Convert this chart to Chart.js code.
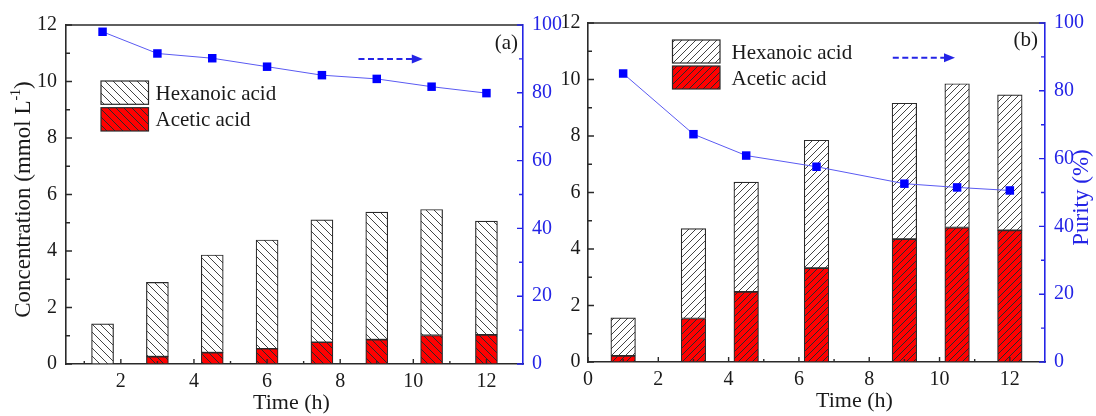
<!DOCTYPE html>
<html>
<head>
<meta charset="utf-8">
<script src="https://cdn.jsdelivr.net/npm/chart.js@4.4.1/dist/chart.umd.min.js"></script>
<style>
  html, body { margin: 0; padding: 0; background: #fff; }
  body { width: 1096px; height: 416px; position: relative; overflow: hidden; }
  #chartA { position: absolute; left: 0; top: 0; }
  #chartB { position: absolute; left: 540px; top: 0; }
</style>
</head>
<body>
<canvas id="chartA" width="570" height="416"></canvas>
<canvas id="chartB" width="556" height="416"></canvas>
<script>
// Panel (a)
const timeA = [1.5, 3, 4.5, 6, 7.5, 9, 10.5, 12];
const aceticA = [null, 0.26, 0.40, 0.54, 0.77, 0.86, 1.01, 1.03];
const hexanoicA = [1.42, 2.63, 3.46, 3.85, 4.33, 4.52, 4.46, 4.03];
const purityA = [98.0, 91.6, 90.2, 87.7, 85.2, 84.1, 81.8, 79.9];

// Panel (b)
const timeB = [1, 3, 4.5, 6.5, 9, 10.5, 12];
const aceticB = [0.22, 1.54, 2.48, 3.32, 4.35, 4.76, 4.66];
const hexanoicB = [1.34, 3.18, 3.89, 4.53, 4.81, 5.09, 4.80];
const purityB = [85.1, 67.2, 60.9, 57.6, 52.6, 51.5, 50.6];

// Tick labels
const xTicksA = [2, 4, 6, 8, 10, 12];
const xTicksB = [0, 2, 4, 6, 8, 10, 12];
const concTicks = [0, 2, 4, 6, 8, 10, 12];
const purityTicks = [0, 20, 40, 60, 80, 100];

const SERIF = '"Liberation Serif", "Times New Roman", serif';
const INK = '#1a1a1a';
const BLUE = '#2424e6';

// hatch fill: dir 'back' = \\\ , 'fwd' = ///
function makeHatch(fill, dir, gap, ink) {
  const c = document.createElement('canvas');
  c.width = gap; c.height = gap;
  const g = c.getContext('2d');
  g.fillStyle = fill;
  g.fillRect(0, 0, gap, gap);
  g.strokeStyle = ink;
  g.lineWidth = 1;
  g.beginPath();
  if (dir === 'back') {
    g.moveTo(0, 0); g.lineTo(gap, gap);
    g.moveTo(-1, gap - 1); g.lineTo(1, gap + 1);
    g.moveTo(gap - 1, -1); g.lineTo(gap + 1, 1);
  } else {
    g.moveTo(0, gap); g.lineTo(gap, 0);
    g.moveTo(-1, 1); g.lineTo(1, -1);
    g.moveTo(gap - 1, gap + 1); g.lineTo(gap + 1, gap - 1);
  }
  g.stroke();
  return g.createPattern(c, 'repeat');
}

// inward major + minor ticks
function inTicks(ctx, scale, base, dir, color, major, minor) {
  const vals = scale.ticks.map(t => t.value);
  const step = vals[1] - vals[0];
  const marks = vals.map(v => [v, major]);
  vals.forEach(v => {
    [v - step / 2, v + step / 2].forEach(m => {
      if (m > scale.min && m < scale.max && !marks.some(k => Math.abs(k[0] - m) < 1e-9)) marks.push([m, minor]);
    });
  });
  ctx.strokeStyle = color;
  ctx.lineWidth = 1.4;
  ctx.beginPath();
  marks.forEach(([v, len]) => {
    const p = scale.getPixelForValue(v);
    if (scale.isHorizontal()) { ctx.moveTo(p, base); ctx.lineTo(p, base + dir * len); }
    else { ctx.moveTo(base, p); ctx.lineTo(base + dir * len, p); }
  });
  ctx.stroke();
}

function drawRotated(ctx, parts, cx, cy, color, size) {
  // parts: [text, isSup]
  ctx.save();
  ctx.translate(cx, cy);
  ctx.rotate(-Math.PI / 2);
  ctx.fillStyle = color;
  ctx.textBaseline = 'middle';
  const supSize = Math.round(size * 0.62);
  let total = 0;
  parts.forEach(([t, sup]) => {
    ctx.font = `${sup ? supSize : size}px ${SERIF}`;
    total += ctx.measureText(t).width;
  });
  let x = -total / 2;
  ctx.textAlign = 'left';
  parts.forEach(([t, sup]) => {
    ctx.font = `${sup ? supSize : size}px ${SERIF}`;
    ctx.fillText(t, x, sup ? -size * 0.33 : 0);
    x += ctx.measureText(t).width;
  });
  ctx.restore();
}

const panelDeco = {
  id: 'panelDeco',
  afterDatasetsDraw(chart, args, o) {
    const { ctx, chartArea: ca } = chart;
    const { x, y, y2 } = chart.scales;
    ctx.save();

    // top frame
    ctx.strokeStyle = '#2a2a2a';
    ctx.lineWidth = 1.6;
    ctx.beginPath();
    ctx.moveTo(ca.left, ca.top);
    ctx.lineTo(ca.right, ca.top);
    ctx.stroke();

    inTicks(ctx, x, ca.bottom, -1, '#2a2a2a', 5, 3);
    inTicks(ctx, y, ca.left, 1, '#2a2a2a', 6, 4);
    inTicks(ctx, y2, ca.right, -1, BLUE, 6, 4);

    // legend
    const lg = o.legend;
    lg.items.forEach((di, k) => {
      const ds = chart.data.datasets[di];
      const bx = ca.left + lg.dx;
      const by = ca.top + lg.dy + k * lg.step;
      ctx.fillStyle = ds.backgroundColor;
      ctx.fillRect(bx, by, lg.w, lg.h);
      ctx.strokeStyle = '#2a2a2a';
      ctx.lineWidth = 1.2;
      ctx.strokeRect(bx, by, lg.w, lg.h);
      ctx.fillStyle = INK;
      ctx.font = `21px ${SERIF}`;
      ctx.textAlign = 'left';
      ctx.textBaseline = 'alphabetic';
      ctx.fillText(ds.label, bx + lg.w + lg.textGap, by + lg.h / 2 + 7);
    });

    // panel label
    ctx.fillStyle = INK;
    ctx.font = `21px ${SERIF}`;
    ctx.textAlign = 'right';
    ctx.textBaseline = 'middle';
    ctx.fillText(o.tag, ca.right + o.tagDx, ca.top + o.tagDy);

    // dashed arrow pointing to right axis
    const [a0, a1, ay] = o.arrow;
    const px0 = x.getPixelForValue(a0), px1 = x.getPixelForValue(a1), py = y.getPixelForValue(ay);
    ctx.strokeStyle = BLUE;
    ctx.lineWidth = 2;
    ctx.setLineDash([6, 3.5]);
    ctx.beginPath();
    ctx.moveTo(px0, py);
    ctx.lineTo(px1 - 8, py);
    ctx.stroke();
    ctx.setLineDash([]);
    ctx.fillStyle = BLUE;
    ctx.beginPath();
    ctx.moveTo(px1, py);
    ctx.lineTo(px1 - 11, py - 4.5);
    ctx.lineTo(px1 - 11, py + 4.5);
    ctx.closePath();
    ctx.fill();

    // axis titles
    ctx.fillStyle = INK;
    ctx.font = `22px ${SERIF}`;
    ctx.textAlign = 'center';
    ctx.textBaseline = 'alphabetic';
    ctx.fillText('Time (h)', (ca.left + ca.right) / 2 + o.xTitleDx, ca.bottom + 45);
    if (o.yTitle) drawRotated(ctx, o.yTitle.parts, o.yTitle.cx, (ca.top + ca.bottom) / 2 + 5, o.yTitle.color, 23);

    ctx.restore();
  }
};

function buildChart(id, t, acetic, hexanoic, purity, cfg) {
  const tickFont = { family: SERIF, size: 20 };
  return new Chart(document.getElementById(id), {
    type: 'bar',
    data: {
      datasets: [
        {
          label: 'Acetic acid',
          data: t.map((v, i) => ({ x: v, y: acetic[i] })),
          backgroundColor: makeHatch('#ff0000', cfg.dir, cfg.gap, '#2a2a2a'),
          borderColor: '#2a2a2a', borderWidth: 1.2, borderSkipped: false,
          barThickness: cfg.barPx, order: 1, yAxisID: 'y'
        },
        {
          label: 'Hexanoic acid',
          data: t.map((v, i) => ({ x: v, y: hexanoic[i] })),
          backgroundColor: makeHatch('#ffffff', cfg.dir, cfg.gap, '#444'),
          borderColor: '#2a2a2a', borderWidth: 1.2, borderSkipped: false,
          barThickness: cfg.barPx, order: 1, yAxisID: 'y'
        },
        {
          type: 'line',
          label: 'Purity',
          data: t.map((v, i) => ({ x: v, y: purity[i] })),
          borderColor: '#5a5af2', borderWidth: 1,
          pointStyle: 'rect', pointRadius: 6, pointBorderWidth: 0,
          pointBackgroundColor: '#0000ff', pointBorderColor: '#0000ff',
          tension: 0, order: 0, yAxisID: 'y2'
        }
      ]
    },
    options: {
      responsive: false,
      animation: false,
      devicePixelRatio: 1,
      layout: { padding: { top: cfg.top, left: 0, right: 0, bottom: 0 } },
      plugins: {
        legend: { display: false },
        tooltip: { enabled: false },
        panelDeco: cfg.deco
      },
      scales: {
        x: {
          type: 'linear', min: cfg.xMin, max: 13, offset: false, stacked: true,
          afterBuildTicks: s => { s.ticks = cfg.xTicks.map(v => ({ value: v })); },
          afterFit: s => { s.height = cfg.xH; },
          grid: { display: false, drawTicks: false },
          border: { color: '#2a2a2a', width: 1.6 },
          ticks: { font: tickFont, color: INK, padding: 6, maxRotation: 0, autoSkip: false }
        },
        y: {
          position: 'left', min: 0, max: 12, stacked: true,
          afterBuildTicks: s => { s.ticks = concTicks.map(v => ({ value: v })); },
          afterFit: s => { s.width = cfg.yW; },
          grid: { display: false, drawTicks: false },
          border: { color: '#2a2a2a', width: 1.6 },
          ticks: { font: tickFont, color: INK, padding: cfg.yPad }
        },
        y2: {
          position: 'right', min: 0, max: 100,
          afterBuildTicks: s => { s.ticks = purityTicks.map(v => ({ value: v })); },
          afterFit: s => { s.width = cfg.y2W; },
          grid: { display: false, drawTicks: false },
          border: { color: BLUE, width: 1.6 },
          ticks: { font: tickFont, color: BLUE, padding: 9 }
        }
      }
    },
    plugins: [panelDeco]
  });
}

buildChart('chartA', timeA, aceticA, hexanoicA, purityA, {
  dir: 'back', gap: 8, barPx: 22, xMin: 0.5, xTicks: xTicksA,
  top: 25, xH: 52, yW: 66, y2W: 47, yPad: 9,
  deco: {
    legend: { items: [1, 0], dx: 35, dy: 56, step: 26.7, w: 47.5, h: 23.3, textGap: 7 },
    tag: '(a)', tagDx: -5, tagDy: 18,
    arrow: [8.5, 10.26, 10.8],
    xTitleDx: -3,
    yTitle: { parts: [['Concentration (mmol L', false], ['-1', true], [')', false]], cx: 24, color: INK }
  }
});

buildChart('chartB', timeB, aceticB, hexanoicB, purityB, {
  dir: 'fwd', gap: 7, barPx: 24.6, xMin: 0, xTicks: xTicksB,
  top: 23, xH: 54, yW: 48, y2W: 51, yPad: 7.5,
  deco: {
    legend: { items: [1, 0], dx: 84.5, dy: 17, step: 26, w: 47.5, h: 23, textGap: 11.5 },
    tag: '(b)', tagDx: -7, tagDy: 17,
    arrow: [8.67, 10.44, 10.77],
    xTitleDx: 38,
    yTitle: { parts: [['Purity (%)', false]], cx: 542, color: BLUE }
  }
});
</script>
</body>
</html>
